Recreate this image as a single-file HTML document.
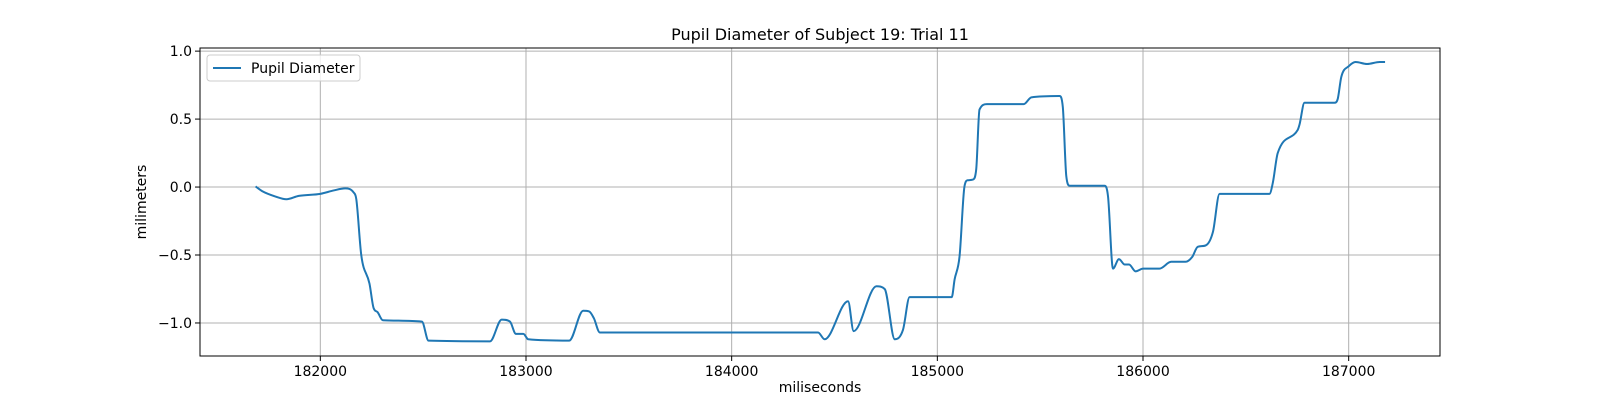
<!DOCTYPE html>
<html><head><meta charset="utf-8"><style>
html,body{margin:0;padding:0;background:#fff;}
svg{display:block;font-family:"DejaVu Sans","Liberation Sans",sans-serif;}
</style></head><body>
<svg id="chart" width="1600" height="400" viewBox="0 0 1600 400" xmlns="http://www.w3.org/2000/svg">
<rect width="1600" height="400" fill="#fff"/>
<g id="grid"></g>
<g id="ticks"></g>
<g id="series"></g>
<rect x="200" y="48" width="1240" height="308" fill="none" stroke="#000" stroke-width="1"/>
<text x="820" y="40" font-size="16" text-anchor="middle">Pupil Diameter of Subject 19: Trial 11</text>
<text x="820" y="392" font-size="14" text-anchor="middle">miliseconds</text>
<text x="146" y="202" font-size="14" text-anchor="middle" transform="rotate(-90 146 202)">milimeters</text>
<g>
<rect x="207" y="55" width="153" height="26" rx="3" fill="#fff" fill-opacity="0.8" stroke="#ccc"/>
<line x1="213" y1="68" x2="241" y2="68" stroke="#1f77b4" stroke-width="2"/>
<text x="251" y="73" font-size="14">Pupil Diameter</text>
</g>
</svg>
<script>
const times = [181689,181717,181782,181835,181895,182000,182065,182121,182162,182175,182199,182239,182259,182278,182304,182494,182526,182825,182882,182922,182951,182987,183011,183210,183278,183307,183330,183359,184420,184452,184566,184593,184704,184744,184793,184833,184865,185070,185084,185108,185132,185148,185173,185189,185205,185241,185420,185457,185594,185610,185627,185643,185813,185830,185854,185883,185911,185932,185964,186000,186080,186137,186207,186239,186266,186304,186340,186372,186615,186631,186655,186752,186761,186785,186931,186947,186964,187001,187034,187089,187151,187172];
const pupil = [0.0,-0.03,-0.07,-0.09,-0.065,-0.05,-0.025,-0.01,-0.04,-0.09,-0.5,-0.71,-0.89,-0.92,-0.98,-0.99,-1.13,-1.135,-0.975,-0.99,-1.08,-1.08,-1.12,-1.13,-0.91,-0.915,-0.965,-1.07,-1.07,-1.12,-0.84,-1.06,-0.73,-0.75,-1.12,-1.05,-0.81,-0.81,-0.68,-0.51,0.005,0.05,0.055,0.13,0.57,0.61,0.61,0.66,0.67,0.59,0.08,0.01,0.01,-0.07,-0.6,-0.53,-0.57,-0.57,-0.62,-0.6,-0.6,-0.55,-0.55,-0.515,-0.44,-0.43,-0.33,-0.05,-0.05,0.03,0.25,0.42,0.46,0.62,0.62,0.65,0.81,0.89,0.92,0.905,0.92,0.92];
const xTicks = [182000,183000,184000,185000,186000,187000];
const yTicks = [1.0,0.5,0.0,-0.5,-1.0];
const yTickLabels = ["1.0","0.5","0.0","\u22120.5","\u22121.0"];

const NS="http://www.w3.org/2000/svg";
const L=200,R=1440,T=48,B=356;
const xmin=181415,xmax=187444,ymin=-1.243,ymax=1.023;
function sx(v){return L+(v-xmin)/(xmax-xmin)*(R-L);}
function sy(v){return B-(v-ymin)/(ymax-ymin)*(B-T);}
function mk(tag,attrs,parent){const e=document.createElementNS(NS,tag);for(const k in attrs)e.setAttribute(k,attrs[k]);parent.appendChild(e);return e;}
const grid=document.getElementById('grid'),ticks=document.getElementById('ticks'),series=document.getElementById('series');
xTicks.forEach(function(t){
  const x=sx(t);
  const g=mk('line',{x1:x,y1:T,x2:x,y2:B,stroke:'#b0b0b0','stroke-width':1},grid);
  
  
  const tk=mk('line',{x1:x,y1:B,x2:x,y2:B+5,stroke:'#000','stroke-width':1},ticks);
  
  
  const tx=mk('text',{x:x,y:B+20,'font-size':14,'text-anchor':'middle'},ticks);
  tx.textContent=String(t);
  
  
});
yTicks.forEach(function(t,i){
  const y=sy(t);
  const g=mk('line',{x1:L,y1:y,x2:R,y2:y,stroke:'#b0b0b0','stroke-width':1},grid);
  
  
  const tk=mk('line',{x1:L-5,y1:y,x2:L,y2:y,stroke:'#000','stroke-width':1},ticks);
  
  
  const tx=mk('text',{x:L-8,y:y+5,'font-size':14,'text-anchor':'end'},ticks);
  tx.textContent=yTickLabels[i];
  
  
});
// monotone cubic (Fritsch-Carlson) path through the data points
const X=times.map(sx), Y=pupil.map(sy), n=X.length;
const d=[], m=new Array(n);
for(let i=0;i<n-1;i++){d.push((Y[i+1]-Y[i])/(X[i+1]-X[i]));}
m[0]=d[0]; m[n-1]=d[n-2];
for(let i=1;i<n-1;i++){m[i]=(d[i-1]*d[i]<=0)?0:(d[i-1]+d[i])/2;}
for(let i=0;i<n-1;i++){
  if(d[i]===0){m[i]=0;m[i+1]=0;continue;}
  const a=m[i]/d[i], b=m[i+1]/d[i], s=a*a+b*b;
  if(s>9){const t=3/Math.sqrt(s);m[i]=t*a*d[i];m[i+1]=t*b*d[i];}
}
let p='M'+X[0].toFixed(2)+','+Y[0].toFixed(2);
for(let i=0;i<n-1;i++){
  const h=(X[i+1]-X[i])/3;
  p+=' C'+(X[i]+h).toFixed(2)+','+(Y[i]+m[i]*h).toFixed(2)+' '+(X[i+1]-h).toFixed(2)+','+(Y[i+1]-m[i+1]*h).toFixed(2)+' '+X[i+1].toFixed(2)+','+Y[i+1].toFixed(2);
}
const line=mk('path',{d:p,fill:'none',stroke:'#1f77b4','stroke-width':2,'stroke-linejoin':'round','stroke-linecap':'square'},series);


</script>
</body></html>
